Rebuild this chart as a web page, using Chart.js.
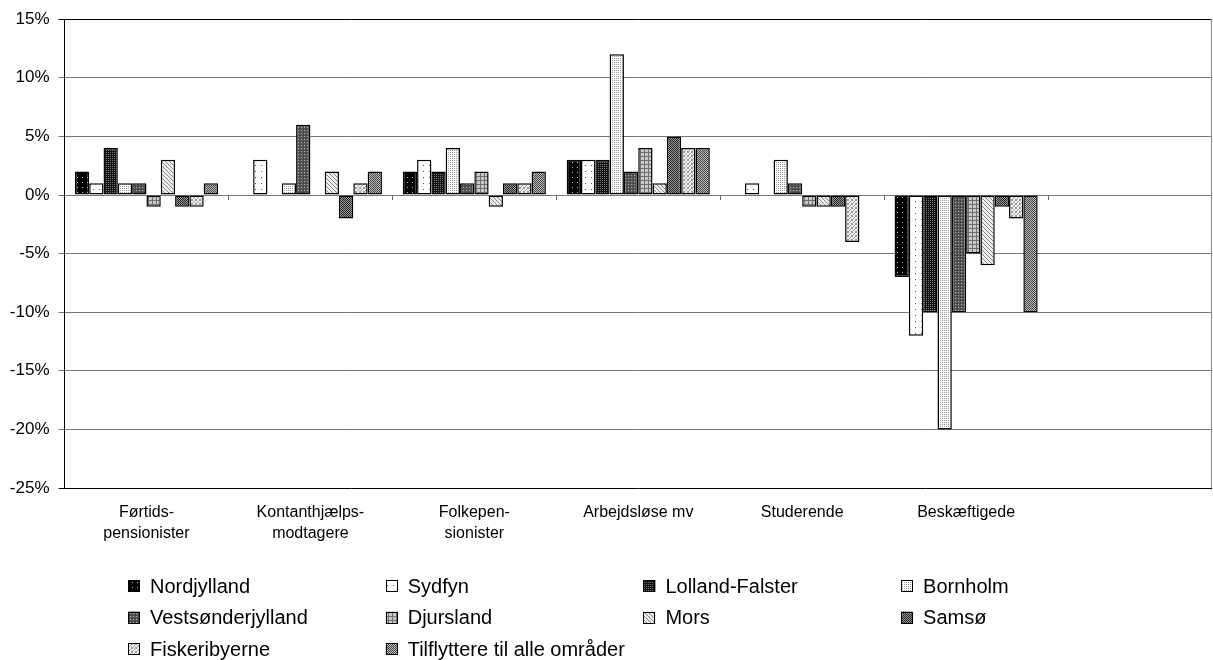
<!DOCTYPE html>
<html>
<head>
<meta charset="utf-8">
<script src="https://cdn.jsdelivr.net/npm/chart.js@4"></script>
<style>
  html, body { margin: 0; padding: 0; background: #fff; }
  #wrap { width: 1213px; height: 660px; position: relative; }
</style>
</head>
<body>
<div id="wrap"><canvas id="c" width="1213" height="660"></canvas></div>
<script>
// ---- Data ----
const categories = [['Førtids-', 'pensionister'], ['Kontanthjælps-', 'modtagere'], ['Folkepen-', 'sionister'], 'Arbejdsløse mv', 'Studerende', 'Beskæftigede', ''];
const seriesNames = ['Nordjylland', 'Sydfyn', 'Lolland-Falster', 'Bornholm', 'Vestsønderjylland', 'Djursland', 'Mors', 'Samsø', 'Fiskeribyerne', 'Tilflyttere til alle områder'];
const nordjylland = [2, 0, 2, 3, 0, -7];
const sydfyn = [1, 3, 3, 3, 1, -12];
const lollandFalster = [4, 0, 2, 3, 0, -10];
const bornholm = [1, 1, 4, 12, 3, -20];
const vestsonderjylland = [1, 6, 1, 2, 1, -10];
const djursland = [-1, 0, 2, 4, -1, -5];
const mors = [3, 2, -1, 1, -1, -6];
const samso = [-1, -2, 1, 5, -1, -1];
const fiskeribyerne = [-1, 1, 1, 4, -4, -2];
const tilflyttere = [1, 2, 2, 4, 0, -10];
const yTicks = [15, 10, 5, 0, -5, -10, -15, -20, -25];

const seriesValues = [nordjylland, sydfyn, lollandFalster, bornholm, vestsonderjylland, djursland, mors, samso, fiskeribyerne, tilflyttere];

// ---- Patterns ----
function makePattern(size, draw) {
  const c = document.createElement('canvas');
  c.width = size; c.height = size;
  const g = c.getContext('2d');
  draw(g, size);
  return document.getElementById('c').getContext('2d').createPattern(c, 'repeat');
}
function px(g, x, y, col) { g.fillStyle = col; g.fillRect(x, y, 1, 1); }
function diag(g, s, base, line, dir, step) {
  g.fillStyle = base; g.fillRect(0, 0, s, s);
  for (let y = 0; y < s; y++) for (let x = 0; x < s; x++) {
    const v = dir > 0 ? (x + y) % step : ((x - y) % step + step) % step;
    if (v === 0) px(g, x, y, line);
  }
}
const patterns = [
  makePattern(5, (g, s) => { g.fillStyle = '#000'; g.fillRect(0, 0, s, s); px(g, 2, 2, '#bbb'); }),
  makePattern(6, (g, s) => { g.fillStyle = '#fff'; g.fillRect(0, 0, s, s); px(g, 3, 3, '#555'); }),
  makePattern(2, (g, s) => { g.fillStyle = '#111'; g.fillRect(0, 0, s, s); px(g, 0, 0, '#777'); }),
  makePattern(2, (g, s) => { g.fillStyle = '#fff'; g.fillRect(0, 0, s, s); px(g, 0, 0, '#999'); }),
  makePattern(3, (g, s) => { g.fillStyle = '#555'; g.fillRect(0, 0, s, s); px(g, 1, 1, '#aaa'); px(g, 0, 0, '#333'); }),
  makePattern(4, (g, s) => { g.fillStyle = '#c8c8c8'; g.fillRect(0, 0, s, s); g.fillStyle = '#707070'; g.fillRect(0, 0, s, 1); g.fillRect(0, 0, 1, s); }),
  makePattern(4, (g, s) => diag(g, s, '#eee', '#888', -1, 4)),
  makePattern(4, (g, s) => diag(g, s, '#999', '#222', 1, 2)),
  makePattern(4, (g, s) => diag(g, s, '#f0f0f0', '#999', 1, 3)),
  makePattern(4, (g, s) => diag(g, s, '#bbb', '#444', -1, 2))
];

const FONT = '"Liberation Sans", Arial, sans-serif';

const datasets = seriesNames.map((name, i) => ({
  label: name,
  data: seriesValues[i],
  backgroundColor: patterns[i],
  borderColor: '#000',
  borderWidth: ctx => (ctx.raw === 0 ? 0 : 1.5),
  borderSkipped: false,
  categoryPercentage: 0.873,
  barPercentage: 1.0
}));

// ---- Custom plugin: category ticks on zero line, right border, legend ----
const decor = {
  id: 'decor',
  beforeDatasetsDraw(chart) {
    const { ctx, chartArea } = chart;
    const xs = chart.scales.x, ys = chart.scales.y;
    const y0 = ys.getPixelForValue(0);
    ctx.save();
    ctx.strokeStyle = '#666';
    ctx.lineWidth = 1;
    for (let i = 1; i < categories.length; i++) {
      const xb = Math.round((xs.getPixelForTick(i - 1) + xs.getPixelForTick(i)) / 2) + 0.5;
      ctx.beginPath(); ctx.moveTo(xb, y0); ctx.lineTo(xb, y0 + 5); ctx.stroke();
    }
    ctx.strokeStyle = '#888';
    ctx.beginPath(); ctx.moveTo(chartArea.right - 0.5, chartArea.top); ctx.lineTo(chartArea.right - 0.5, chartArea.bottom); ctx.stroke();
    ctx.restore();
  },
  afterDraw(chart) {
    const { ctx } = chart;
    ctx.save();
    ctx.font = '20px ' + FONT;
    ctx.textBaseline = 'middle';
    chart.data.datasets.forEach((ds, i) => {
      const col = i % 4, row = Math.floor(i / 4);
      const bx = 128 + col * 257.7;
      const cy = 586 + row * 31.5;
      ctx.fillStyle = ds.backgroundColor;
      ctx.fillRect(bx, cy - 6, 12, 12);
      ctx.strokeStyle = '#000';
      ctx.lineWidth = 1;
      ctx.strokeRect(Math.round(bx) + 0.5, Math.round(cy - 6) + 0.5, 11, 11);
      ctx.fillStyle = '#000';
      ctx.fillText(ds.label, bx + 22, cy + 1);
    });
    ctx.restore();
  }
};

new Chart(document.getElementById('c'), {
  type: 'bar',
  data: { labels: categories, datasets },
  options: {
    responsive: false,
    animation: false,
    layout: { padding: { top: 19, right: 1, left: 0, bottom: 0 } },
    plugins: { legend: { display: false }, tooltip: { enabled: false } },
    scales: {
      x: {
        grid: { display: false, drawTicks: false },
        border: { display: false },
        ticks: {
          color: '#000',
          padding: 14,
          maxRotation: 0,
          autoSkip: false,
          font: { family: FONT, size: 16, lineHeight: 1.3 }
        },
        afterFit(scale) { scale.height = 172; }
      },
      y: {
        min: -25,
        max: 15,
        afterBuildTicks(scale) { scale.ticks = yTicks.map(v => ({ value: v })); },
        grid: {
          color: ctx => (ctx.tick && (ctx.tick.value === 15 || ctx.tick.value === -25) ? '#000' : '#777'),
          lineWidth: 1,
          tickLength: 6,
          drawTicks: true
        },
        border: { display: true, color: '#000', width: 1 },
        ticks: {
          color: '#000',
          padding: 9,
          font: { family: FONT, size: 17 },
          callback: v => v + '%'
        },
        afterFit(scale) { scale.width = 64.5; }
      }
    }
  },
  plugins: [decor]
});
</script>
</body>
</html>
